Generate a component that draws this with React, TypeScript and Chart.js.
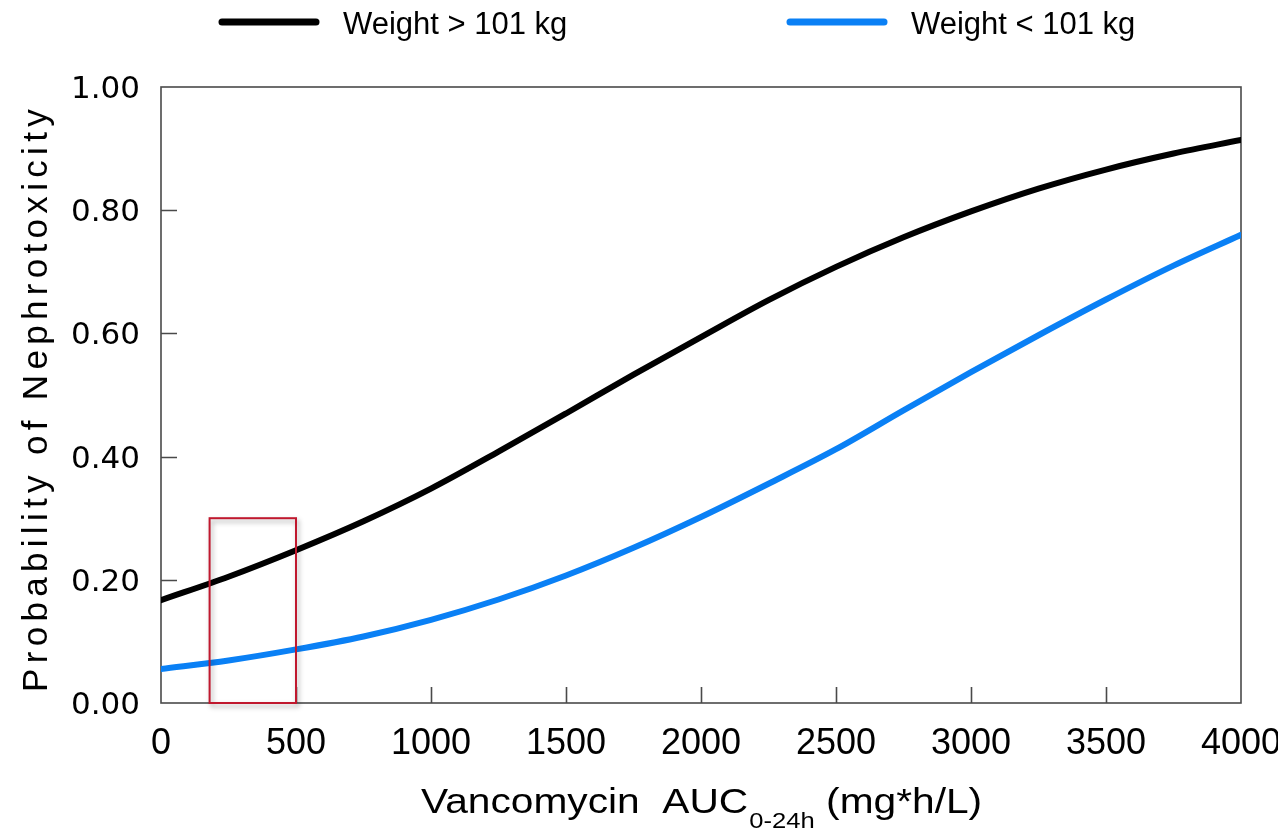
import React, { useEffect, useRef } from "react";
import { Chart, registerables } from "chart.js";

Chart.register(...registerables);

// ---- data ----
const aucValues = [0, 250, 500, 750, 1000, 1250, 1500, 1750, 2000, 2250, 2500, 2750, 3000, 3250, 3500, 3750, 4000];
const heavyProb = [0.167, 0.205, 0.248, 0.295, 0.348, 0.408, 0.47, 0.533, 0.594, 0.654, 0.708, 0.756, 0.798, 0.835, 0.866, 0.892, 0.914];
const lightProb = [0.055, 0.069, 0.087, 0.108, 0.135, 0.168, 0.207, 0.252, 0.302, 0.356, 0.412, 0.475, 0.537, 0.597, 0.655, 0.71, 0.76];
const seriesLabels = ["Weight > 101 kg", "Weight < 101 kg"];
const xAxisRange = [0, 4000];
const xTickStep = 500;
const yAxisRange = [0, 1];
const yTickStep = 0.2;
const highlightX = [180, 500];
const highlightY = [0, 0.3];
const xTitleMain = "Vancomycin  AUC";
const xTitleSub = "0-24h";
const xTitleTail = " (mg*h/L)";
const yTitle = "Probability of Nephrotoxicity";

// ---- styles ----
const SERIES_COLORS = ["#000000", "#0a80f5"];
const SANS = "'Liberation Sans', Arial, Helvetica, sans-serif";
const AXIS_COLOR = "#4a4a4a";

const decorPlugin = {
  id: "decor",
  beforeDatasetsDraw(chart: any) {
    const { ctx, chartArea: a, scales } = chart;
    ctx.save();
    ctx.strokeStyle = AXIS_COLOR;
    ctx.lineWidth = 1.6;
    ctx.strokeRect(a.left, a.top, a.right - a.left, a.bottom - a.top);
    ctx.beginPath();
    const yt = scales.y.ticks;
    yt.forEach((t: any, i: number) => {
      if (i === 0 || i === yt.length - 1) return;
      const y = Math.round(scales.y.getPixelForValue(t.value)) + 0.5;
      ctx.moveTo(a.left, y);
      ctx.lineTo(a.left + 16, y);
    });
    const xt = scales.x.ticks;
    xt.forEach((t: any, i: number) => {
      if (i === 0 || i === xt.length - 1) return;
      const x = Math.round(scales.x.getPixelForValue(t.value)) + 0.5;
      ctx.moveTo(x, a.bottom);
      ctx.lineTo(x, a.bottom - 16);
    });
    ctx.stroke();
    ctx.restore();
  },
  afterDatasetsDraw(chart: any) {
    const { ctx, scales } = chart;
    const x0 = scales.x.getPixelForValue(highlightX[0]);
    const x1 = scales.x.getPixelForValue(highlightX[1]);
    const y0 = scales.y.getPixelForValue(highlightY[1]);
    const y1 = scales.y.getPixelForValue(highlightY[0]);
    ctx.save();
    ctx.shadowColor = "rgba(0,0,0,0.35)";
    ctx.shadowBlur = 5;
    ctx.shadowOffsetX = 2;
    ctx.shadowOffsetY = 3;
    ctx.strokeStyle = "#c0182e";
    ctx.lineWidth = 2;
    ctx.strokeRect(x0, y0, x1 - x0, y1 - y0);
    ctx.restore();
  },
  afterDraw(chart: any) {
    const { ctx, chartArea: a } = chart;
    ctx.save();
    // legend
    const legendX = [222, 790];
    const legendY = 22;
    chart.data.datasets.forEach((ds: any, i: number) => {
      ctx.strokeStyle = ds.borderColor;
      ctx.lineWidth = 7;
      ctx.lineCap = "round";
      ctx.beginPath();
      ctx.moveTo(legendX[i], legendY);
      ctx.lineTo(legendX[i] + 94, legendY);
      ctx.stroke();
      ctx.fillStyle = "#000";
      ctx.font = `31px ${SANS}`;
      ctx.textAlign = "left";
      ctx.textBaseline = "alphabetic";
      ctx.fillText(ds.label, legendX[i] + 121, legendY + 12);
    });

    // y axis title
    ctx.font = `35px ${SANS}`;
    const natY = ctx.measureText(yTitle).width;
    const targetY = 588;
    ctx.save();
    ctx.translate(47, (a.top + a.bottom) / 2 + 3);
    ctx.rotate(-Math.PI / 2);
    let sx = 1;
    const c: any = ctx;
    if ("letterSpacing" in c) {
      c.letterSpacing = `${(targetY - natY) / yTitle.length}px`;
      const w2 = ctx.measureText(yTitle).width;
      if (Math.abs(w2 - natY) < 1) sx = targetY / natY;
    } else {
      sx = targetY / natY;
    }
    ctx.scale(sx, 1);
    ctx.textAlign = "center";
    ctx.textBaseline = "alphabetic";
    ctx.fillStyle = "#000";
    ctx.fillText(yTitle, 0, 0);
    ctx.restore();

    // x axis title with subscript
    const mainFont = `35px ${SANS}`;
    const subFont = `22px ${SANS}`;
    ctx.font = mainFont;
    const w1 = ctx.measureText(xTitleMain).width;
    const w3 = ctx.measureText(xTitleTail).width;
    ctx.font = subFont;
    const w2 = ctx.measureText(xTitleSub).width;
    const target = 560;
    const s = target / (w1 + w2 + w3);
    const startX = 421;
    const base = 813;
    ctx.save();
    ctx.translate(startX, base);
    ctx.scale(s, 1);
    ctx.fillStyle = "#000";
    ctx.textAlign = "left";
    ctx.textBaseline = "alphabetic";
    ctx.font = mainFont;
    ctx.fillText(xTitleMain, 0, 0);
    ctx.font = subFont;
    ctx.fillText(xTitleSub, w1 + 1, 15);
    ctx.font = mainFont;
    ctx.fillText(xTitleTail, w1 + w2 + 1, 0);
    ctx.restore();
    ctx.restore();
  },
};

export default function App() {
  const ref = useRef<HTMLCanvasElement | null>(null);
  useEffect(() => {
    document.body.style.margin = "0";
    const canvas = ref.current;
    if (!canvas) return;
    const makeData = (ys: number[]) => aucValues.map((x, i) => ({ x, y: ys[i] }));
    const chart = new Chart(canvas, {
      type: "line",
      data: {
        datasets: [
          {
            label: seriesLabels[0],
            data: makeData(heavyProb),
            borderColor: SERIES_COLORS[0],
            backgroundColor: SERIES_COLORS[0],
            borderWidth: 6,
            pointRadius: 0,
            cubicInterpolationMode: "monotone",
            borderCapStyle: "round",
            fill: false,
          },
          {
            label: seriesLabels[1],
            data: makeData(lightProb),
            borderColor: SERIES_COLORS[1],
            backgroundColor: SERIES_COLORS[1],
            borderWidth: 6,
            pointRadius: 0,
            cubicInterpolationMode: "monotone",
            borderCapStyle: "round",
            fill: false,
          },
        ],
      },
      options: {
        responsive: false,
        animation: false,
        events: [],
        layout: { padding: { left: 0, right: 37, top: 87, bottom: 0 } },
        plugins: {
          legend: { display: false },
          tooltip: { enabled: false },
          title: { display: false },
        },
        scales: {
          x: {
            type: "linear",
            min: xAxisRange[0],
            max: xAxisRange[1],
            grid: { display: false, drawTicks: false },
            border: { display: false },
            ticks: {
              stepSize: xTickStep,
              autoSkip: false,
              maxRotation: 0,
              padding: 19,
              color: "#000",
              font: { family: SANS, size: 36 },
              callback: (v: any) => String(v),
            },
            afterFit: (sc: any) => {
              sc.height = 125;
              sc.paddingLeft = 0;
              sc.paddingRight = 0;
            },
          },
          y: {
            type: "linear",
            min: yAxisRange[0],
            max: yAxisRange[1],
            grid: { display: false, drawTicks: false },
            border: { display: false },
            ticks: {
              stepSize: yTickStep,
              padding: 21,
              labelOffset: 3,
              color: "#000",
              font: { family: "'DejaVu Sans', sans-serif", size: 31 },
              callback: (v: any) => Number(v).toFixed(2),
            },
            afterFit: (sc: any) => {
              sc.width = 161;
              sc.paddingTop = 0;
              sc.paddingBottom = 0;
            },
          },
        },
      },
      plugins: [decorPlugin],
    } as any);
    return () => chart.destroy();
  }, []);
  return (
    <div style={{ position: "absolute", left: 0, top: 0, width: 1278, height: 828, background: "#fff" }}>
      <canvas ref={ref} width={1278} height={828} style={{ display: "block" }} />
    </div>
  );
}
